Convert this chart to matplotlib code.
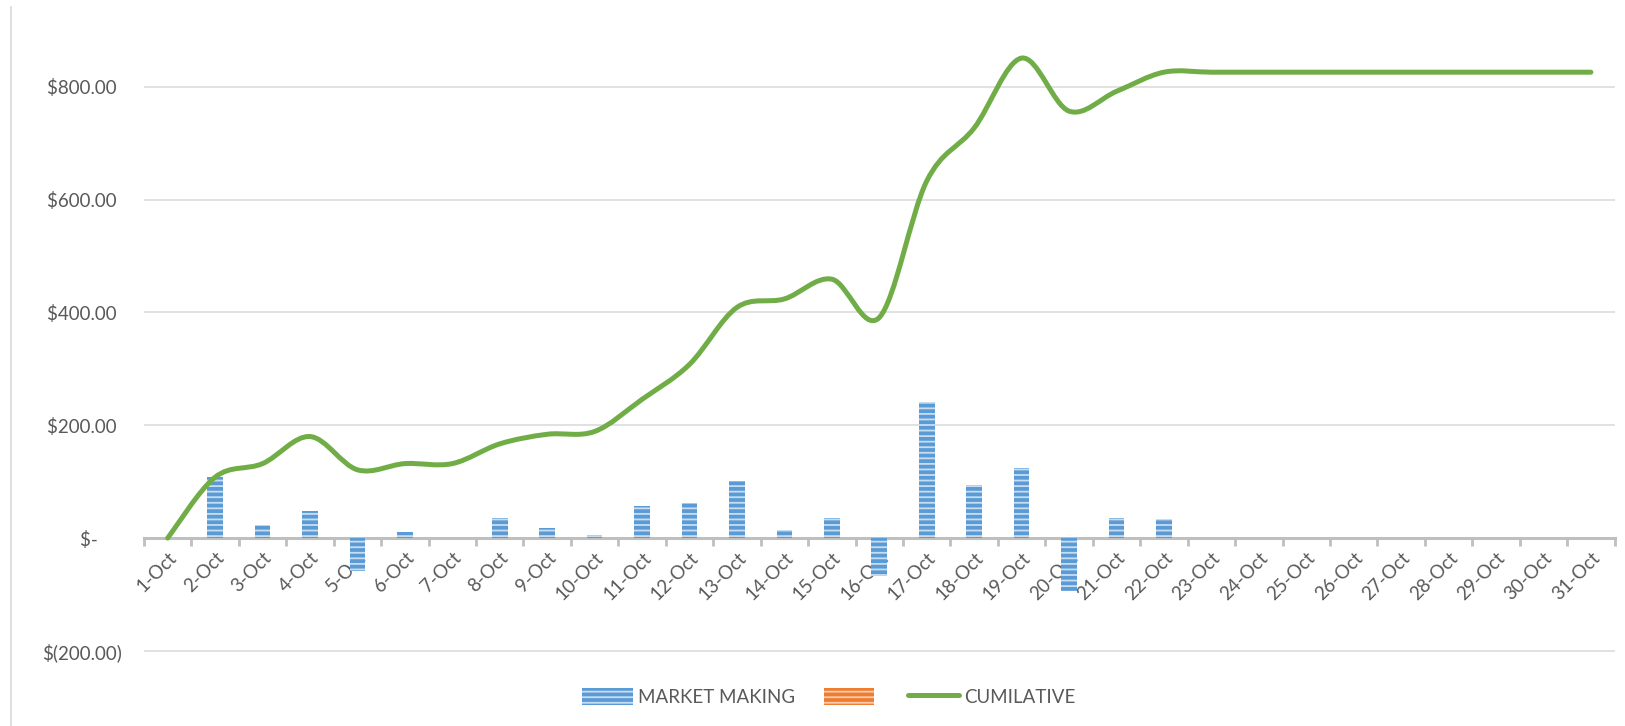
import matplotlib
matplotlib.use("Agg")
import matplotlib.pyplot as plt
import numpy as np
from matplotlib.lines import Line2D
from matplotlib.patches import Patch, PathPatch
from matplotlib.path import Path

# ---------------------------------------------------------------------------
# Data
# ---------------------------------------------------------------------------
days = [f"{d}-Oct" for d in range(1, 32)]
market_making = [0, 108, 24, 48, -59, 11, 0, 35, 17, 5, 57, 62, 101, 15, 35,
                 -68, 242, 94, 124, -94, 35, 34, 0, 0, 0, 0, 0, 0, 0, 0, 0]
cumulative = [0, 108, 132, 180, 121, 132, 132, 167, 184, 189, 246, 308, 409,
              424, 459, 391, 633, 727, 851, 757, 792, 826, 826, 826, 826, 826,
              826, 826, 826, 826, 826]
y_ticks = [-200, 0, 200, 400, 600, 800]
y_labels = ["$(200.00)", "$-     ", "$200.00 ", "$400.00 ", "$600.00 ", "$800.00 "]

BLUE = "#5B9BD5"
BLUE_LIGHT = "#C9DDF1"
ORANGE = "#ED7D31"
ORANGE_LIGHT = "#F8CBAD"
GREEN = "#70AD47"
TEXT = "#595959"
FS = 13.5

plt.rcParams["font.family"] = ["Lato", "DejaVu Sans"]
plt.rcParams["hatch.linewidth"] = 1.3


def smooth_path(xs, ys):
    """Excel-like smoothed line (Catmull-Rom -> cubic Bezier)."""
    pts = np.column_stack([xs, ys]).astype(float)
    ext = np.vstack([pts[0], pts, pts[-1]])
    verts = [pts[0]]
    codes = [Path.MOVETO]
    for i in range(1, len(ext) - 2):
        p0, p1, p2, p3 = ext[i - 1], ext[i], ext[i + 1], ext[i + 2]
        verts += [p1 + (p2 - p0) / 6.0, p2 - (p3 - p1) / 6.0, p2]
        codes += [Path.CURVE4] * 3
    return Path(verts, codes)


fig = plt.figure(figsize=(16.25, 7.26), dpi=100)
ax = fig.add_axes([0.0886, 0.0771, 0.905, 0.9229])

x = np.arange(len(days))
ax.bar(x, market_making, width=0.33, color=BLUE, edgecolor=BLUE_LIGHT,
       linewidth=0, hatch="---", zorder=2)

line = PathPatch(smooth_path(x, cumulative), facecolor="none", edgecolor=GREEN,
                 linewidth=3.6, capstyle="round", joinstyle="round", zorder=3)
ax.add_patch(line)

ax.set_xlim(-0.5, len(days) - 0.5)
ax.set_ylim(-234, 954)

# y axis
ax.set_yticks(y_ticks)
ax.set_yticklabels(y_labels, color=TEXT, fontsize=FS)
ax.tick_params(axis="y", length=0, pad=16)
ax.grid(axis="y", color="#D9D9D9", linewidth=1.1, zorder=0)
ax.set_axisbelow(True)

# x axis on the zero line
for side in ["left", "right", "top"]:
    ax.spines[side].set_visible(False)
ax.spines["bottom"].set_position(("data", 0))
ax.spines["bottom"].set_color("#BFBFBF")
ax.spines["bottom"].set_linewidth(2.2)
ax.spines["bottom"].set_zorder(1)
ax.set_xticks(np.arange(len(days) + 1) - 0.5)
ax.set_xticklabels([])
ax.tick_params(axis="x", which="major", length=6, width=2, color="#BFBFBF",
               direction="out")
ax.set_xticks(x, minor=True)
ax.set_xticklabels(days, minor=True, rotation=45, ha="right",
                   rotation_mode="anchor", color=TEXT, fontsize=FS)
ax.tick_params(axis="x", which="minor", length=0, pad=8)

# chart border on the left
fig.add_artist(Line2D([0.0065, 0.0065], [0.0, 0.99], transform=fig.transFigure,
                      color="#D9D9D9", linewidth=1.2))

handles = [
    Patch(facecolor=BLUE, edgecolor=BLUE_LIGHT, linewidth=0, hatch="---"),
    Patch(facecolor=ORANGE, edgecolor=ORANGE_LIGHT, linewidth=0, hatch="---"),
    Line2D([0], [0], color=GREEN, linewidth=3.6, solid_capstyle="round"),
]
fig.legend(handles, ["MARKET MAKING", "", "CUMILATIVE"], loc="center",
           bbox_to_anchor=(0.51, 0.04), ncol=3, frameon=False,
           fontsize=FS, labelcolor=TEXT, handlelength=2.7, handleheight=1.0,
           columnspacing=1.5, handletextpad=0.3)

fig.savefig("out.png", dpi=100, facecolor="white")
